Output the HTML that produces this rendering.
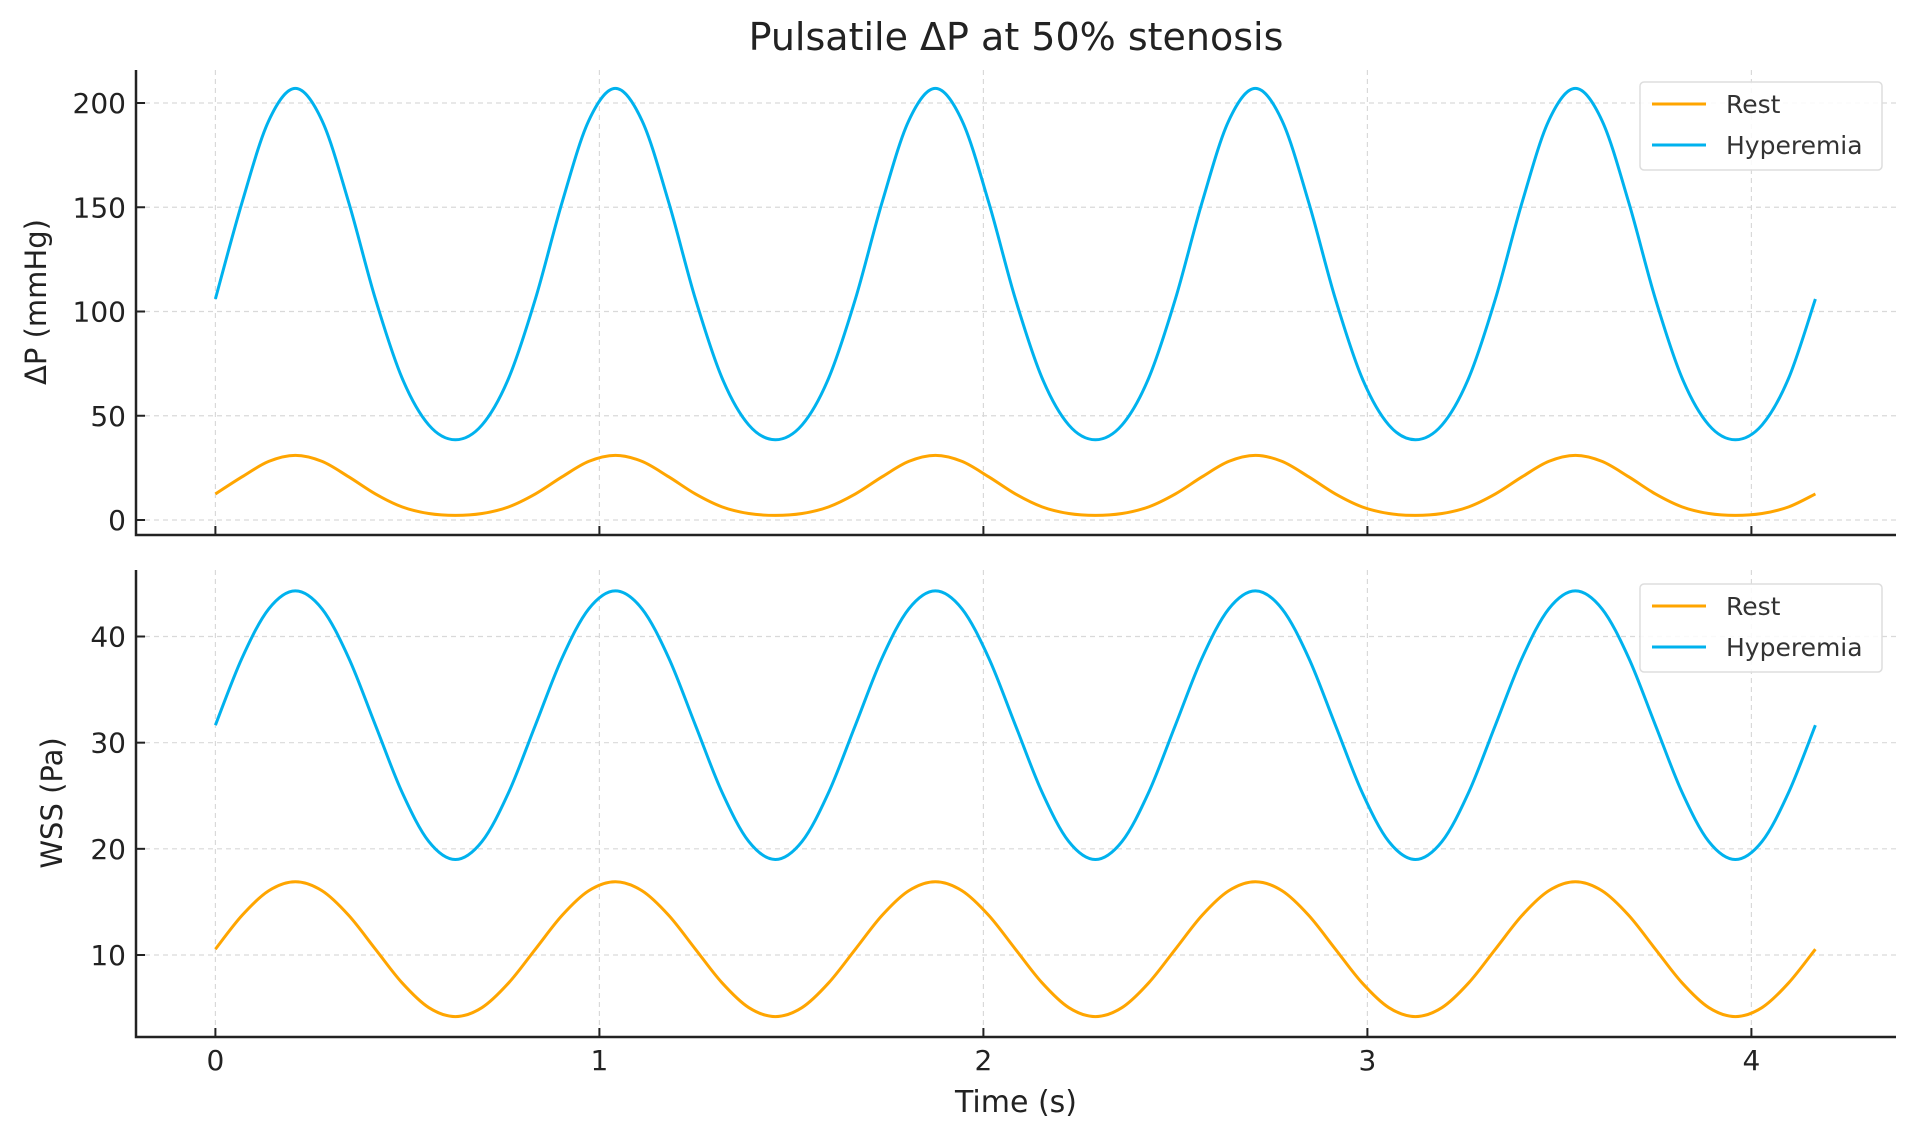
<!DOCTYPE html>
<html><head><meta charset="utf-8"><style>
html,body{margin:0;padding:0;background:#fff;}
svg{display:block;font-family:"DejaVu Sans","Liberation Sans",sans-serif;}
</style></head><body>
<svg id="chart" width="1919" height="1137" viewBox="0 0 1919 1137">
<text x="1016" y="50" font-size="38" text-anchor="middle" fill="#222">Pulsatile ΔP at 50% stenosis</text>
<g id="topPanel"></g>
<g id="botPanel"></g>
<text x="1016" y="1112" font-size="30" text-anchor="middle" fill="#222">Time (s)</text>
<text transform="translate(46,302) rotate(-90)" font-size="29" text-anchor="middle" fill="#222">ΔP (mmHg)</text>
<text transform="translate(62,803) rotate(-90)" font-size="29" text-anchor="middle" fill="#222">WSS (Pa)</text>
</svg>
<script>
const time=[0,0.0694,0.1389,0.2083,0.2778,0.3472,0.4167,0.4861,0.5556,0.625,0.6944,0.7639,
0.8333,0.9028,0.9722,1.0417,1.1111,1.1806,1.25,1.3194,1.3889,1.4583,1.5278,1.5972,
1.6667,1.7361,1.8056,1.875,1.9444,2.0139,2.0833,2.1528,2.2222,2.2917,2.3611,2.4306,
2.5,2.5694,2.6389,2.7083,2.7778,2.8472,2.9167,2.9861,3.0556,3.125,3.1944,3.2639,
3.3333,3.4028,3.4722,3.5417,3.6111,3.6806,3.75,3.8194,3.8889,3.9583,4.0278,4.0972,4.1667];
const dpHyp=[106,152.3,191.5,207,191.5,152.3,106,68.1,45.6,38.5,45.6,68.1,
106,152.3,191.5,207,191.5,152.3,106,68.1,45.6,38.5,45.6,68.1,
106,152.3,191.5,207,191.5,152.3,106,68.1,45.6,38.5,45.6,68.1,
106,152.3,191.5,207,191.5,152.3,106,68.1,45.6,38.5,45.6,68.1,
106,152.3,191.5,207,191.5,152.3,106,68.1,45.6,38.5,45.6,68.1,106];
const dpRest=[12.5,20.7,28.1,31,28.1,20.7,12.5,6.3,3.1,2.2,3.1,6.3,
12.5,20.7,28.1,31,28.1,20.7,12.5,6.3,3.1,2.2,3.1,6.3,
12.5,20.7,28.1,31,28.1,20.7,12.5,6.3,3.1,2.2,3.1,6.3,
12.5,20.7,28.1,31,28.1,20.7,12.5,6.3,3.1,2.2,3.1,6.3,
12.5,20.7,28.1,31,28.1,20.7,12.5,6.3,3.1,2.2,3.1,6.3,12.5];
const wssHyp=[31.65,37.98,42.6,44.3,42.6,37.98,31.65,25.33,20.7,19,20.7,25.33,
31.65,37.98,42.6,44.3,42.6,37.98,31.65,25.33,20.7,19,20.7,25.33,
31.65,37.98,42.6,44.3,42.6,37.98,31.65,25.33,20.7,19,20.7,25.33,
31.65,37.98,42.6,44.3,42.6,37.98,31.65,25.33,20.7,19,20.7,25.33,
31.65,37.98,42.6,44.3,42.6,37.98,31.65,25.33,20.7,19,20.7,25.33,31.65];
const wssRest=[10.55,13.73,16.05,16.9,16.05,13.73,10.55,7.38,5.05,4.2,5.05,7.38,
10.55,13.73,16.05,16.9,16.05,13.73,10.55,7.38,5.05,4.2,5.05,7.38,
10.55,13.73,16.05,16.9,16.05,13.73,10.55,7.38,5.05,4.2,5.05,7.38,
10.55,13.73,16.05,16.9,16.05,13.73,10.55,7.38,5.05,4.2,5.05,7.38,
10.55,13.73,16.05,16.9,16.05,13.73,10.55,7.38,5.05,4.2,5.05,7.38,10.55];
const xTicks=[0,1,2,3,4];
const dpTicks=[0,50,100,150,200];
const wssTicks=[10,20,30,40];

const NS='http://www.w3.org/2000/svg';
const X0=215.4, XS=384;
function xs(t){return X0+t*XS;}
function mk(tag,attrs,parent){const e=document.createElementNS(NS,tag);for(const k in attrs)e.setAttribute(k,attrs[k]);parent.appendChild(e);return e;}
function smooth(pts){let d='M'+pts[0][0].toFixed(2)+','+pts[0][1].toFixed(2);
for(let i=0;i<pts.length-1;i++){const p0=pts[Math.max(i-1,0)],p1=pts[i],p2=pts[i+1],p3=pts[Math.min(i+2,pts.length-1)];
const c1=[p1[0]+(p2[0]-p0[0])/6,p1[1]+(p2[1]-p0[1])/6],c2=[p2[0]-(p3[0]-p1[0])/6,p2[1]-(p3[1]-p1[1])/6];
d+=' C'+c1.map(v=>v.toFixed(2)).join(',')+' '+c2.map(v=>v.toFixed(2)).join(',')+' '+p2[0].toFixed(2)+','+p2[1].toFixed(2);}
return d;}
function panel(g,pTop,pBottom,ys,yTicks,series,legTop,showXLabels,prefix){
  const L=136,R=1896;
  for(const t of xTicks){
    const gl=mk('line',{x1:xs(t),x2:xs(t),y1:pTop,y2:pBottom,stroke:'#d9d9d9','stroke-width':1.2,'stroke-dasharray':'5,4'},g);
    
    
    const tk=mk('line',{x1:xs(t),x2:xs(t),y1:pBottom,y2:pBottom-9,stroke:'#222','stroke-width':2},g);
    
    
    if(showXLabels){const tx=mk('text',{x:xs(t),y:1070,'font-size':28,'text-anchor':'middle',fill:'#222'},g);tx.textContent=t;
      
      }
  }
  for(const v of yTicks){
    const y=ys(v);
    const gl=mk('line',{x1:L,x2:R,y1:y,y2:y,stroke:'#d9d9d9','stroke-width':1.2,'stroke-dasharray':'5,4'},g);
    
    
    const tk=mk('line',{x1:L,x2:L+9,y1:y,y2:y,stroke:'#222','stroke-width':2},g);
    
    
    const tx=mk('text',{x:126,y:y+10,'font-size':28,'text-anchor':'end',fill:'#222'},g);tx.textContent=v;
    
    
  }
  const ax=mk('path',{d:`M${L},${pTop} L${L},${pBottom} L${R},${pBottom}`,fill:'none',stroke:'#222','stroke-width':2.5},g);
  
  
  for(const s of series){
    const pts=time.map((t,i)=>[xs(t),ys(s.vals[i])]);
    const p=mk('path',{d:smooth(pts),fill:'none',stroke:s.color,'stroke-width':3},g);
    
    
  }
  const lg=mk('g',{},g);
  
  
  mk('rect',{x:1640,y:legTop,width:242,height:88,rx:4,fill:'#fff','fill-opacity':0.85,stroke:'#ddd','stroke-width':1.5},lg);
  series.forEach((s,i)=>{
    const y=legTop+22+i*41;
    const ln=mk('line',{x1:1652,x2:1706,y1:y,y2:y,stroke:s.color,'stroke-width':3},lg);
    
    
    const tx=mk('text',{x:1726,y:y+9,'font-size':25,fill:'#333'},lg);tx.textContent=s.label;
    
    
  });
}
const topPanelEl=document.getElementById('topPanel'),botPanelEl=document.getElementById('botPanel');
panel(topPanelEl,70,535,v=>520-v*(417/200),dpTicks,[{key:'rest',label:'Rest',color:'#FFA500',vals:dpRest},{key:'hyperemia',label:'Hyperemia',color:'#00B2EE',vals:dpHyp}],82,false,'dp');
panel(botPanelEl,570,1037,v=>955-(v-10)*(318.5/30),wssTicks,[{key:'rest',label:'Rest',color:'#FFA500',vals:wssRest},{key:'hyperemia',label:'Hyperemia',color:'#00B2EE',vals:wssHyp}],584,true,'wss');
</script>
</body></html>
